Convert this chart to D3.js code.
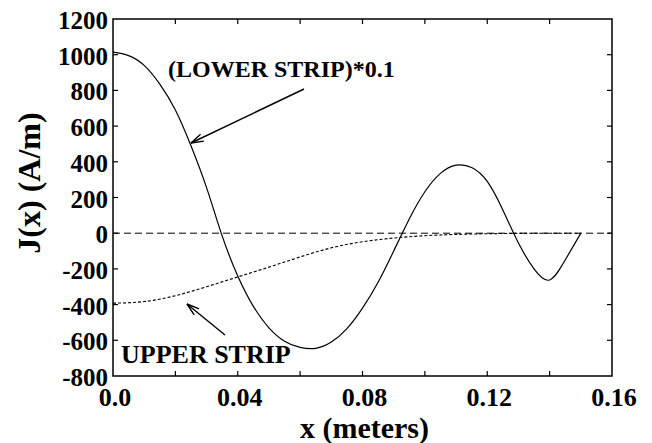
<!DOCTYPE html>
<html>
<head>
<meta charset="utf-8">
<script src="https://cdn.jsdelivr.net/npm/d3@7"></script>
<style>
  body { margin: 0; background: #fff; }
  text { font-family: "Liberation Serif", "Times New Roman", serif; font-weight: bold; fill: #000; }
</style>
</head>
<body>
<svg id="chart"></svg>
<script>
// data (lower strip already multiplied by 0.1)
const lowerX = [0, 0.005, 0.01, 0.015, 0.02, 0.025, 0.03, 0.035, 0.04, 0.045, 0.05, 0.055, 0.06, 0.065, 0.07, 0.075, 0.08, 0.085, 0.09, 0.095, 0.1, 0.105, 0.11, 0.115, 0.12, 0.125, 0.13, 0.135, 0.14, 0.145, 0.15];
const lowerJ = [1014, 995, 940, 835, 690, 490, 255, -15, -240, -410, -530, -605, -640, -645, -610, -535, -420, -275, -100, 80, 232, 335, 381, 368, 290, 130, -55, -200, -262, -150, 0];
const upperX = [0, 0.01, 0.02, 0.03, 0.04, 0.05, 0.06, 0.07, 0.08, 0.09, 0.1, 0.11, 0.12, 0.13, 0.14, 0.15];
const upperJ = [-392, -383, -350, -300, -245, -190, -133, -82, -48, -27, -14, -7, -3, -1, 0, 0];
const zeroX = [0, 0.16];
const yTicks = [-800, -600, -400, -200, 0, 200, 400, 600, 800, 1000, 1200];
const xMinorTicks = [0.02, 0.04, 0.06, 0.08, 0.1, 0.12, 0.14];
const xLabelTicks = [0, 0.04, 0.08, 0.12, 0.16];
const xLabels = ["0.0", "0.04", "0.08", "0.12", "0.16"];

const w = 652, h = 443;
const margin = { top: 19, right: 40, bottom: 67, left: 113 };

const svg = d3.select("#chart").attr("width", w).attr("height", h);

const xScale = d3.scaleLinear().domain([0, 0.16]).range([margin.left, w - margin.right]);
const yScale = d3.scaleLinear().domain([-800, 1200]).range([h - margin.bottom, margin.top]);

// frame
svg.append("rect")
    .attr("x", xScale(0)).attr("y", yScale(1200))
    .attr("width", xScale(0.16) - xScale(0)).attr("height", yScale(-800) - yScale(1200))
    .attr("fill", "none").attr("stroke", "#000").attr("stroke-width", 1.5);

// ticks, pointing inward on all four sides
const tickLen = 5;
const ticks = svg.append("g").attr("stroke", "#000").attr("stroke-width", 1.2);
yTicks.slice(1, -1).forEach(v => {
    ticks.append("line").attr("x1", xScale(0)).attr("x2", xScale(0) + tickLen).attr("y1", yScale(v)).attr("y2", yScale(v));
    ticks.append("line").attr("x1", xScale(0.16)).attr("x2", xScale(0.16) - tickLen).attr("y1", yScale(v)).attr("y2", yScale(v));
});
xMinorTicks.forEach(v => {
    ticks.append("line").attr("x1", xScale(v)).attr("x2", xScale(v)).attr("y1", yScale(-800)).attr("y2", yScale(-800) - tickLen);
    ticks.append("line").attr("x1", xScale(v)).attr("x2", xScale(v)).attr("y1", yScale(1200)).attr("y2", yScale(1200) + tickLen);
});

// tick labels
svg.append("g").selectAll("text").data(yTicks).join("text")
    .attr("x", xScale(0) - 5)
    .attr("y", d => yScale(d) + 10)
    .attr("text-anchor", "end")
    .attr("font-size", 25)
    .text(d => d);

svg.append("g").selectAll("text").data(xLabelTicks).join("text")
    .attr("x", d => xScale(d) + 2)
    .attr("y", 406)
    .attr("text-anchor", "middle")
    .attr("font-size", 26)
    .text((d, i) => xLabels[i]);

// axis titles
svg.append("text")
    .attr("x", xScale(0.08) + 2).attr("y", 438)
    .attr("text-anchor", "middle")
    .attr("font-size", 30)
    .text("x (meters)");

svg.append("text")
    .attr("transform", `translate(40, 183) rotate(-90)`)
    .attr("text-anchor", "middle")
    .attr("font-size", 32)
    .text("J(x) (A/m)");

// curves
const line = (xs, ys) => d3.line()
    .x(i => xScale(xs[i]))
    .y(i => yScale(ys[i]))
    .curve(d3.curveNatural)(d3.range(xs.length));

svg.append("path")
    .attr("d", line(zeroX, [0, 0]))
    .attr("fill", "none").attr("stroke", "#000").attr("stroke-width", 1)
    .attr("stroke-dasharray", "7,4");

svg.append("path")
    .attr("d", line(upperX, upperJ))
    .attr("fill", "none").attr("stroke", "#000").attr("stroke-width", 1.1)
    .attr("stroke-dasharray", "3,2");

svg.append("path")
    .attr("d", line(lowerX, lowerJ))
    .attr("fill", "none").attr("stroke", "#000").attr("stroke-width", 1.2);

// annotations with open arrowheads
const arrow = (x1, y1, x2, y2) => {
    const g = svg.append("g").attr("stroke", "#000").attr("stroke-width", 1.4).attr("fill", "none");
    g.append("line").attr("x1", x1).attr("y1", y1).attr("x2", x2).attr("y2", y2);
    const ang = Math.atan2(y2 - y1, x2 - x1);
    const len = 13, spread = 0.3;
    [ang + Math.PI - spread, ang + Math.PI + spread].forEach(a => {
        g.append("line").attr("x1", x2).attr("y1", y2)
            .attr("x2", x2 + len * Math.cos(a)).attr("y2", y2 + len * Math.sin(a));
    });
};

svg.append("text")
    .attr("x", 168).attr("y", 77)
    .attr("font-size", 24)
    .text("(LOWER STRIP)*0.1");
arrow(304, 89, 191, 143);

svg.append("text")
    .attr("x", 121).attr("y", 363)
    .attr("font-size", 26)
    .text("UPPER STRIP");
arrow(225, 335, 187, 304);
</script>
</body>
</html>
